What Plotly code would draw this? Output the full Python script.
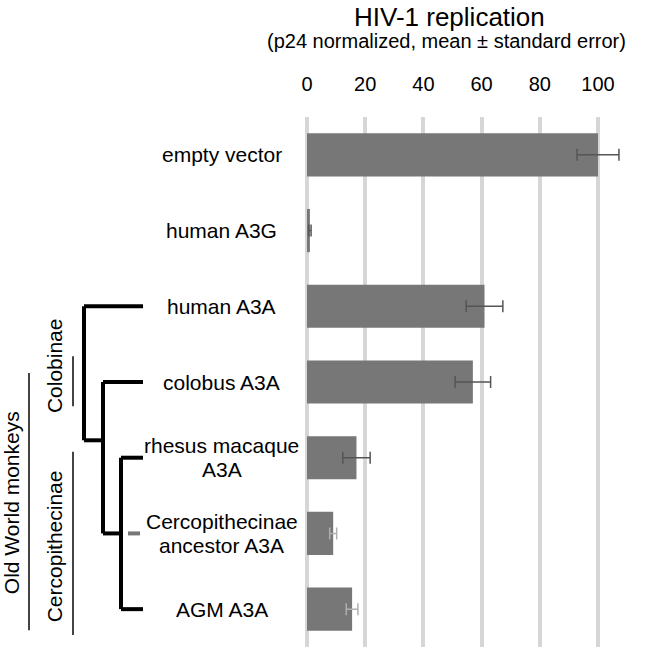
import plotly.graph_objects as go

# ---- data ----
categories = ["empty vector", "human A3G", "human A3A", "colobus A3A",
              "rhesus macaque<br>A3A", "Cercopithecinae<br>ancestor A3A", "AGM A3A"]
values = [100, 1.0, 61, 57, 17, 9, 15.5]
errors = [7.2, 0.4, 6.3, 6.1, 4.7, 1.2, 2.0]
err_dark = [True, True, True, True, True, False, False]
tick_vals = [0, 20, 40, 60, 80, 100]
tick_text = ["0", "20", "40", "60", "80", "100"]
title_text = "HIV-1 replication"
subtitle_text = "(p24 normalized, mean ± standard error)"
group_labels = ["Old World monkeys", "Colobinae", "Cercopithecinae"]

W, H = 650, 647
M_T = 117
PLOT_H = H - M_T
FONT = "Liberation Sans, Arial, sans-serif"

def px(x):
    return x / W

def py(y):
    return (H - y) / PLOT_H

fig = go.Figure()

for dark in (True, False):
    idx = [i for i in range(len(categories)) if err_dark[i] == dark]
    fig.add_trace(go.Bar(
        y=[categories[i] for i in idx],
        x=[values[i] for i in idx],
        orientation="h",
        width=0.57,
        marker=dict(color="#777777", line=dict(width=0)),
        error_x=dict(type="data", array=[errors[i] for i in idx], visible=True,
                     color="#555555" if dark else "#b0b0b0", thickness=1.5, width=6),
        showlegend=False,
        hoverinfo="x+y",
    ))

# category labels
for i, c in enumerate(categories):
    lines = c.split("<br>")
    n = len(lines)
    for j, ln in enumerate(lines):
        off = (j - (n - 1) / 2) * 24
        fig.add_annotation(x=px(222), xref="paper", y=c, yref="y", text=ln,
                           showarrow=False, xanchor="center", yanchor="middle",
                           yshift=-off, font=dict(family=FONT, size=21, color="black"))

# tree (decoration)
tree = [
    (84, 2, 143, 2),
    (84, 2, 84, 3.77),
    (84, 3.77, 103, 3.77),
    (103, 3, 103, 5),
    (103, 3, 143, 3),
    (103, 5, 121, 5),
    (121, 4, 121, 6),
    (121, 4, 143, 4),
    (121, 6, 143, 6),
]
for x0, y0, x1, y1 in tree:
    fig.add_shape(type="line", xref="paper", yref="y", x0=px(x0), x1=px(x1),
                  y0=y0, y1=y1, line=dict(color="black", width=4))
fig.add_shape(type="line", xref="paper", yref="y", x0=px(128), x1=px(140), y0=5, y1=5,
              line=dict(color="#777777", width=4))

# group lines
groups = [
    (29, 2.88, 6.28),
    (73, 2.66, 3.32),
    (73, 3.92, 6.34),
]
for x, y0, y1 in groups:
    fig.add_shape(type="line", xref="paper", yref="y", x0=px(x), x1=px(x), y0=y0, y1=y1,
                  line=dict(color="#444444", width=2))

group_pos = [(11, 4.6), (54, 2.79), (54, 5.17)]
for (x, y), t in zip(group_pos, group_labels):
    fig.add_annotation(x=px(x), xref="paper", y=y, yref="y", text=t, textangle=-90,
                       showarrow=False, xanchor="center", yanchor="middle",
                       font=dict(family=FONT, size=21, color="black"))

# titles
fig.add_annotation(x=px(449), xref="paper", y=py(17), yref="paper", text=title_text,
                   showarrow=False, xanchor="center", yanchor="middle",
                   font=dict(family=FONT, size=26, color="black"))
fig.add_annotation(x=px(446), xref="paper", y=py(41), yref="paper", text=subtitle_text,
                   showarrow=False, xanchor="center", yanchor="middle",
                   font=dict(family=FONT, size=20, color="black"))

xr0 = -307 / 291 * 100
xr1 = xr0 + 650 / 291 * 100

fig.update_layout(
    width=W, height=H,
    margin=dict(l=0, r=0, t=M_T, b=0, pad=0),
    plot_bgcolor="white", paper_bgcolor="white",
    barmode="overlay",
    xaxis=dict(side="top", range=[xr0, xr1], tickvals=tick_vals, ticktext=tick_text,
               showgrid=True, gridcolor="#d6d6d6", gridwidth=4, zeroline=False,
               showline=False, ticks="outside", ticklen=17, tickcolor="rgba(0,0,0,0)",
               tickfont=dict(family=FONT, size=20, color="black"), fixedrange=True),
    yaxis=dict(type="category", categoryorder="array", categoryarray=categories,
               range=[6.5, -0.5], showticklabels=False, showgrid=False, zeroline=False,
               showline=False, ticks="", fixedrange=True),
    font=dict(family=FONT),
)

fig.write_html("out.html", config={"displayModeBar": False},
               post_script="document.body.style.margin='0';document.body.style.overflow='hidden';")
